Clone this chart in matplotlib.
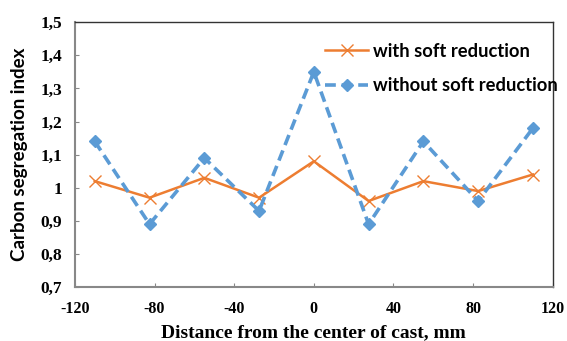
import matplotlib
matplotlib.use("Agg")
from matplotlib import pyplot as plt

# distance from cast center, mm
distance = [-110, -82.5, -55, -27.5, 0, 27.5, 55, 82.5, 110]
with_soft = [1.02, 0.97, 1.03, 0.97, 1.08, 0.96, 1.02, 0.99, 1.04]
without_soft = [1.14, 0.89, 1.09, 0.93, 1.35, 0.89, 1.14, 0.96, 1.18]

x_ticks = [-120, -80, -40, 0, 40, 80, 120]
y_ticks = [0.7, 0.8, 0.9, 1.0, 1.1, 1.2, 1.3, 1.4, 1.5]

plt.rcParams['axes.unicode_minus'] = False

fig = plt.figure(figsize=(5.67, 3.41), dpi=100)
ax = fig.add_axes([0.132, 0.158, 0.843, 0.777])

ax.plot(distance, with_soft, color='#ED7D31', lw=1.8, marker='x', ms=8,
        mew=1.0, label='with soft reduction')
ax.plot(distance, without_soft, color='#5B9BD5', lw=2.6, ls=(0, (3, 1.6)),
        marker='D', ms=6, label='without soft reduction')

ax.set_xlim(-120, 120)
ax.set_ylim(0.7, 1.5)
ax.set_xticks(x_ticks)
ax.set_yticks(y_ticks)

def comma_fmt(v):
    s = f"{v:.1f}"
    if s.endswith(".0"):
        s = s[:-2]
    return s.replace('.', ',')

ax.set_xticklabels([str(t) for t in x_ticks], fontfamily='Liberation Serif',
                   fontweight='bold', fontsize=11.5)
ax.set_yticklabels([comma_fmt(t) for t in y_ticks], fontfamily='Liberation Serif',
                   fontweight='bold', fontsize=12.5)
ax.tick_params(direction='in', length=3, color='#888888')
ax.tick_params(axis='x', pad=10)
ax.tick_params(axis='y', pad=9)

for side in ['left', 'bottom']:
    ax.spines[side].set_color('#888888')
    ax.spines[side].set_linewidth(1.5)
for side in ['top', 'right']:
    ax.spines[side].set_color('#333333')
    ax.spines[side].set_linewidth(1.0)

ax.set_xlabel('Distance from the center of cast, mm', fontfamily='Liberation Serif',
              fontweight='bold', fontsize=14, labelpad=5)
ax.set_ylabel('Carbon segregation index', fontfamily='Lato',
              fontweight='bold', fontsize=13.5, labelpad=9)

leg = ax.legend(loc='upper right', frameon=False, bbox_to_anchor=(1.045, 0.985),
                prop={'family': 'Lato', 'weight': 'bold', 'size': 13.2},
                handlelength=2.3, labelspacing=0.95, handletextpad=0.3)

fig.savefig('out.png', dpi=100)
